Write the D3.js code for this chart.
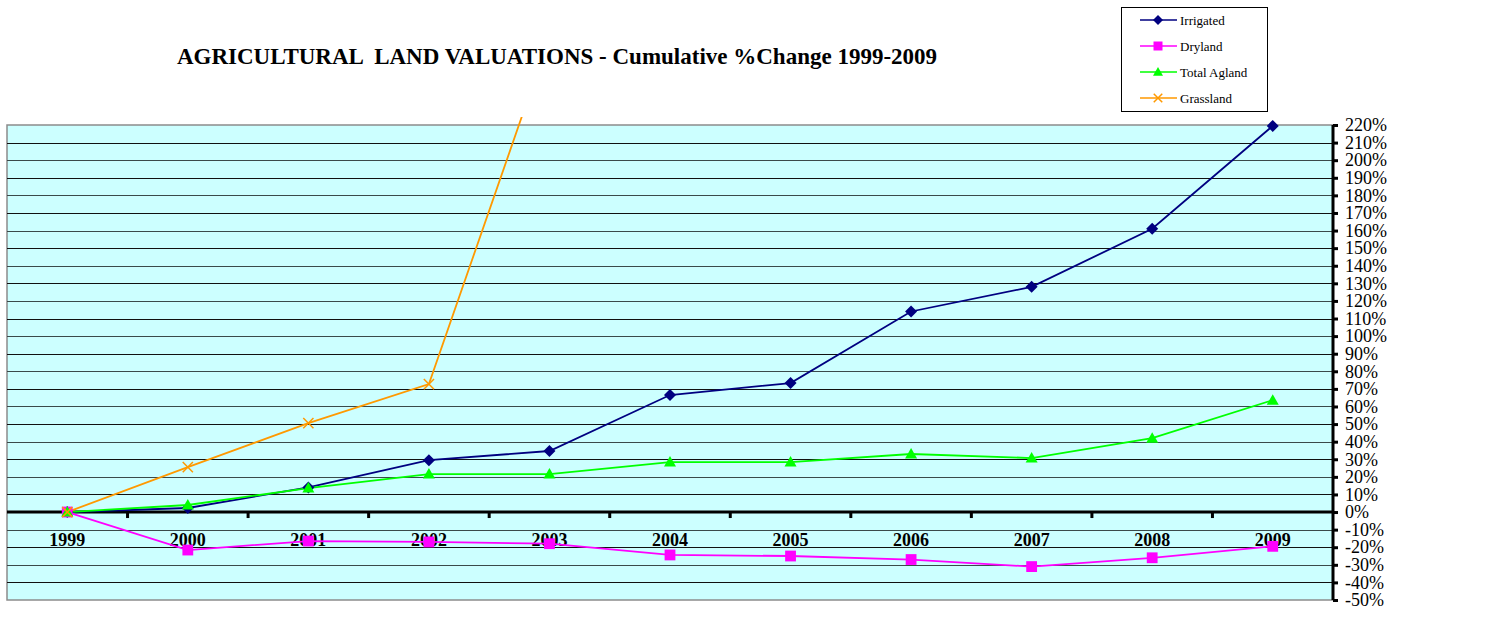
<!DOCTYPE html>
<html>
<head>
<meta charset="utf-8">
<script src="https://cdn.jsdelivr.net/npm/d3@7"></script>
<style>
  body { margin: 0; background: #fff; }
  svg { display: block; }
</style>
</head>
<body>
<div id="chart"></div>
<script>
// chart values
var years = ["1999","2000","2001","2002","2003","2004","2005","2006","2007","2008","2009"];
var irrigated = [0, 2.3, 14, 29.5, 34.7, 66.5, 73.3, 114, 128, 161, 219.5];
var dryland = [0, -21.6, -16.5, -17, -18, -24.4, -25, -27, -31, -26, -19.5];
var totalAgland = [0, 4, 13.6, 21.6, 21.6, 28.4, 28.4, 33, 30.7, 42, 63.6];
var grassland = [0, 25.5, 50.5, 72.7, 270];
var yTicks = [220,210,200,190,180,170,160,150,140,130,120,110,100,90,80,70,60,50,40,30,20,10,0,-10,-20,-30,-40,-50];

var series = [
  {name: "Irrigated", values: irrigated, color: "#000080", symbol: "diamond"},
  {name: "Dryland", values: dryland, color: "#FF00FF", symbol: "square"},
  {name: "Total Agland", values: totalAgland, color: "#00FF00", symbol: "triangle"},
  {name: "Grassland", values: grassland, color: "#FF9900", symbol: "cross"}
];

var W = 1496, H = 623;
var plotL = 7, plotR = 1333, plotT = 125, plotB = 600;

var svg = d3.select("#chart").append("svg")
  .attr("width", W).attr("height", H)
  .style("font-family", "'Liberation Serif', 'Times New Roman', serif");

var x = d3.scaleBand().domain(years).range([plotL, plotR]);
var y = d3.scaleLinear().domain([-50, 220]).range([plotB, plotT]);

// plot background
svg.append("rect")
  .attr("x", plotL).attr("y", plotT)
  .attr("width", plotR - plotL).attr("height", plotB - plotT)
  .attr("fill", "#CCFFFF")
  .attr("stroke", "#8c8c8c").attr("stroke-width", 1.5);

// gridlines
svg.append("g").selectAll("line")
  .data(yTicks.filter(function(d){ return d !== 220 && d !== -50 && d !== 0; }))
  .enter().append("line")
  .attr("x1", plotL).attr("x2", plotR)
  .attr("y1", function(d){ return Math.round(y(d)) + 0.5; })
  .attr("y2", function(d){ return Math.round(y(d)) + 0.5; })
  .attr("stroke", function(d, i){ return i % 2 ? "#3a4a4a" : "#111"; })
  .attr("stroke-width", 1.2);

// right value axis
var yAxis = svg.append("g")
  .attr("transform", "translate(" + plotR + ",0)")
  .call(d3.axisRight(y).tickValues(yTicks).tickSize(5).tickPadding(7)
    .tickFormat(function(d){ return d + "%"; }));
yAxis.select(".domain").attr("stroke-width", 3).attr("d", "M0," + plotT + "V" + plotB);
yAxis.selectAll(".tick line").attr("stroke-width", 3);
yAxis.selectAll("text")
  .style("font-family", "'Liberation Serif', serif")
  .style("font-size", "18px").attr("fill", "#000");

// category axis on 0%
var y0 = y(0);
svg.append("line")
  .attr("x1", plotL).attr("x2", plotR)
  .attr("y1", y0).attr("y2", y0)
  .attr("stroke", "#000").attr("stroke-width", 3);
svg.append("g").selectAll("line")
  .data(years.slice(1))
  .enter().append("line")
  .attr("x1", function(d){ return x(d); }).attr("x2", function(d){ return x(d); })
  .attr("y1", y0).attr("y2", y0 + 6)
  .attr("stroke", "#000").attr("stroke-width", 3);
svg.append("g").selectAll("text")
  .data(years)
  .enter().append("text")
  .attr("x", function(d){ return x(d) + x.bandwidth() / 2; })
  .attr("y", y0 + 34)
  .attr("text-anchor", "middle")
  .style("font-size", "18px").style("font-weight", "bold")
  .text(function(d){ return d; });

// clip so the grassland line runs off the top
svg.append("clipPath").attr("id", "clip")
  .append("rect").attr("x", 0).attr("y", plotT - 8)
  .attr("width", plotR).attr("height", plotB - plotT + 20);

var line = d3.line()
  .x(function(d, i){ return x(years[i]) + x.bandwidth() / 2; })
  .y(function(d){ return y(d); });

function symbolPath(sym, r) {
  if (sym === "diamond") return "M0," + (-r) + "L" + r + ",0L0," + r + "L" + (-r) + ",0Z";
  if (sym === "square") return "M" + (-r * 0.9) + "," + (-r * 0.9) + "h" + (r * 1.8) + "v" + (r * 1.8) + "h" + (-r * 1.8) + "Z";
  if (sym === "triangle") return "M0," + (-r) + "L" + r + "," + (r * 0.75) + "L" + (-r) + "," + (r * 0.75) + "Z";
  var c = r * 0.85;
  return "M" + (-c) + "," + (-c) + "L" + c + "," + c + "M" + (-c) + "," + c + "L" + c + "," + (-c);
}

var plot = svg.append("g").attr("clip-path", "url(#clip)");
series.forEach(function(s){
  plot.append("path")
    .datum(s.values)
    .attr("d", line)
    .attr("fill", "none")
    .attr("stroke", s.color)
    .attr("stroke-width", 1.8);
});
series.forEach(function(s){
  plot.selectAll(null)
    .data(s.values.filter(function(d){ return d <= 220; }))
    .enter().append("path")
    .attr("transform", function(d, i){
      return "translate(" + (x(years[i]) + x.bandwidth() / 2) + "," + y(d) + ")";
    })
    .attr("d", symbolPath(s.symbol, 6))
    .attr("fill", s.symbol === "cross" ? "none" : s.color)
    .attr("stroke", s.color)
    .attr("stroke-width", s.symbol === "cross" ? 1.5 : 0);
});

// title
svg.append("text")
  .attr("x", 557).attr("y", 64)
  .attr("text-anchor", "middle")
  .attr("xml:space", "preserve")
  .style("white-space", "pre")
  .style("font-size", "23px").style("font-weight", "bold")
  .text("AGRICULTURAL  LAND VALUATIONS - Cumulative %Change 1999-2009");

// legend
var lg = svg.append("g");
lg.append("rect")
  .attr("x", 1121.5).attr("y", 7.5).attr("width", 146).attr("height", 104)
  .attr("fill", "#fff").attr("stroke", "#000").attr("stroke-width", 1);
series.forEach(function(s, i){
  var ly = 20 + i * 26;
  lg.append("line")
    .attr("x1", 1140).attr("x2", 1177).attr("y1", ly).attr("y2", ly)
    .attr("stroke", s.color).attr("stroke-width", 1.5);
  lg.append("path")
    .attr("transform", "translate(1158," + ly + ")")
    .attr("d", symbolPath(s.symbol, 5))
    .attr("fill", s.symbol === "cross" ? "none" : s.color)
    .attr("stroke", s.color)
    .attr("stroke-width", s.symbol === "cross" ? 1.5 : 0);
  lg.append("text")
    .attr("x", 1180).attr("y", ly + 4.5)
    .style("font-size", "13px")
    .text(s.name);
});
</script>
</body>
</html>
